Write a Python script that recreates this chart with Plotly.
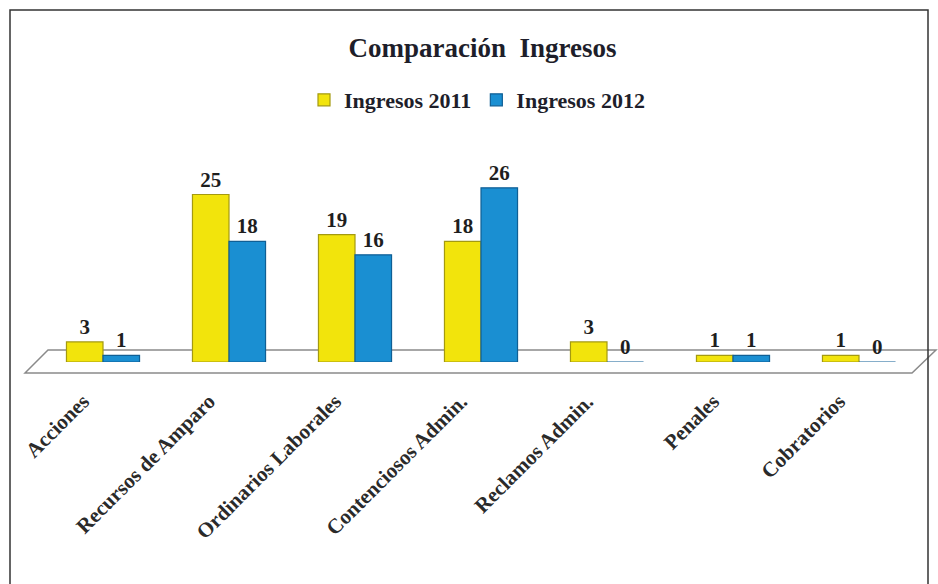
import plotly.graph_objects as go

categories = ["Acciones", "Recursos de Amparo", "Ordinarios Laborales",
              "Contenciosos Admin.", "Reclamos Admin.", "Penales", "Cobratorios"]
ingresos_2011 = [3, 25, 19, 18, 3, 1, 1]
ingresos_2012 = [1, 18, 16, 26, 0, 1, 0]
series_names = ["Ingresos 2011", "Ingresos 2012"]

W, H = 938, 584
L, R, T, B = 40, 16, 161, 222
pw, ph = W - L - R, H - T - B

def px(x):
    return (x - L) / pw

def py(y):
    return (H - B - y) / ph

serif = "Liberation Serif, Times New Roman, serif"

fig = go.Figure()
fig.add_trace(go.Bar(
    x=categories, y=ingresos_2011, name=series_names[0],
    marker=dict(color="#F2E40C", line=dict(color="#A49A10", width=1.2)),
    text=ingresos_2011, textposition="outside", cliponaxis=False,
    textfont=dict(family=serif, size=21, color="#1e1e1e", weight="bold"),
))
fig.add_trace(go.Bar(
    x=categories, y=ingresos_2012, name=series_names[1],
    marker=dict(color="#1A8FD2", line=dict(color="#0F5F95", width=1.2)),
    text=ingresos_2012, textposition="outside", cliponaxis=False,
    textfont=dict(family=serif, size=21, color="#1e1e1e", weight="bold"),
))

# 3D-like floor
floor = [(25, 373), (48, 350), (936, 350), (912, 373)]
path = "M " + " L ".join(f"{px(a)},{py(b)}" for a, b in floor) + " Z"
fig.add_shape(type="path", path=path, xref="paper", yref="paper",
              line=dict(color="#8a8a8a", width=1.5), fillcolor="rgba(255,255,255,0)",
              layer="below")
# chart border
fig.add_shape(type="rect", xref="paper", yref="paper",
              x0=px(10), x1=px(928), y0=py(590), y1=py(10),
              line=dict(color="#333333", width=1.5), layer="below")

fig.update_layout(
    width=W, height=H,
    margin=dict(l=L, r=R, t=T, b=B),
    paper_bgcolor="white", plot_bgcolor="white",
    barmode="group", bargap=0.42, bargroupgap=0.0,
    title=dict(text="Comparación  Ingresos", x=0.5 * (345 + 620) / W, xanchor="center",
               y=1 - 48 / H, yanchor="middle",
               font=dict(family=serif, size=27, color="#1e1e2a", weight="bold")),
    legend=dict(orientation="h", x=px(477), xanchor="center", y=py(100), yanchor="middle",
                font=dict(family=serif, size=22, color="#1e1e2a", weight="bold"),
                itemwidth=30, tracegroupgap=0, bgcolor="rgba(0,0,0,0)"),
    xaxis=dict(showline=False, showgrid=False, zeroline=False, ticks="",
               tickangle=-45, ticklabelstandoff=22, ticklabelshift=-20,
               tickfont=dict(family=serif, size=21, color="#2a2a2a", weight="bold")),
    yaxis=dict(range=[0, 30], visible=False, showgrid=False, zeroline=False),
    showlegend=True,
)

fig.write_html("out.html", post_script="document.body.style.margin='0';",
               config={"displayModeBar": False})
